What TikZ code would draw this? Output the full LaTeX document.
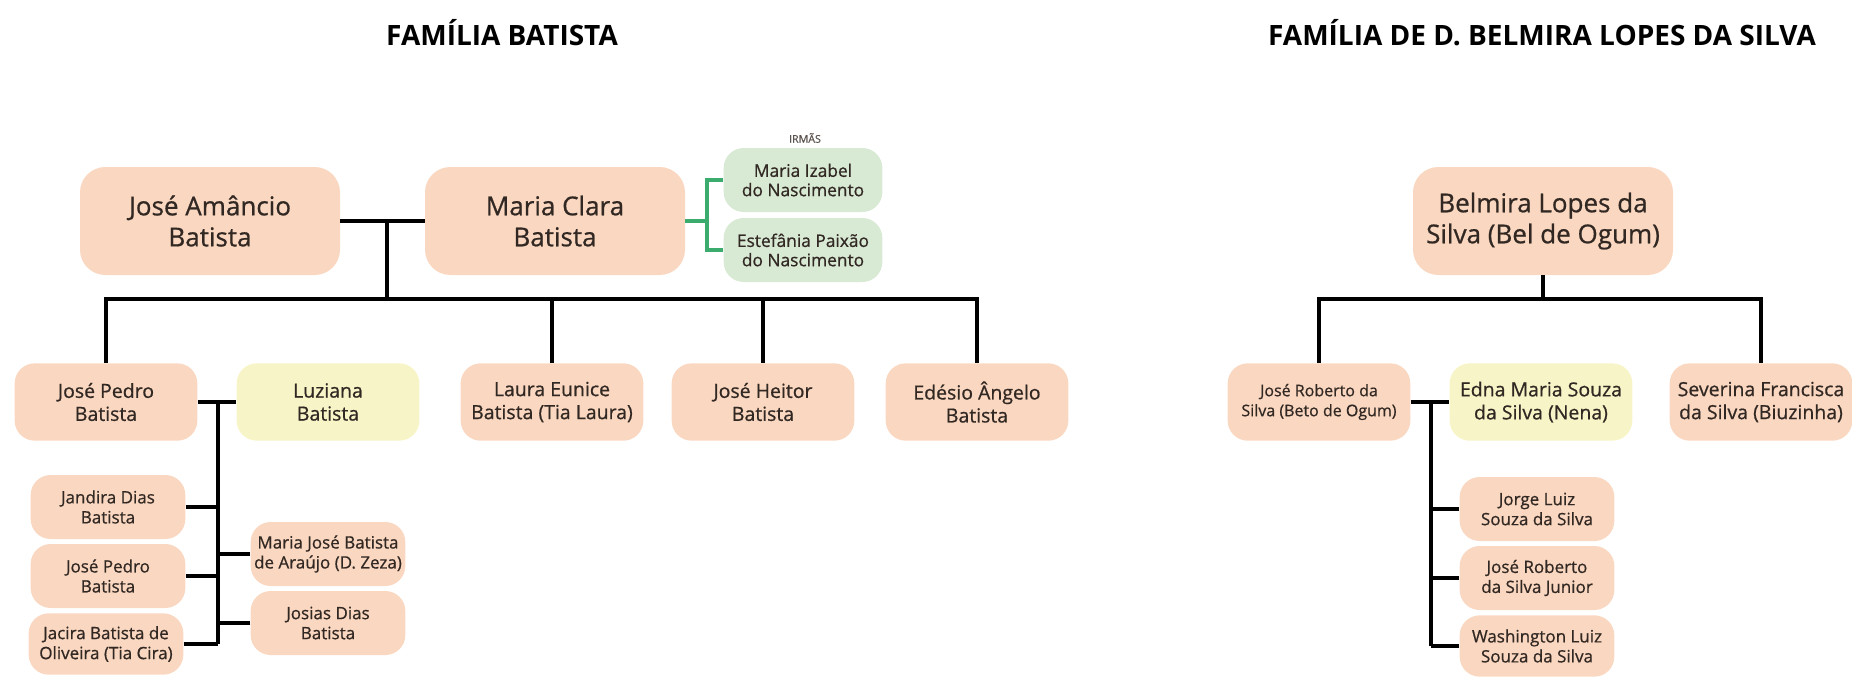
\documentclass[tikz,border=0pt]{standalone}
\usepackage{fontspec}
\setmainfont{Open Sans}
\newfontfamily\semifont{Open Sans}[FakeBold=0.7]
\definecolor{peach}{RGB}{250,215,192}
\definecolor{lemon}{RGB}{247,245,200}
\definecolor{greenfill}{RGB}{216,233,212}
\definecolor{gline}{RGB}{60,172,110}
\definecolor{txt}{RGB}{50,40,35}
\begin{document}
\begin{tikzpicture}[x=0.75pt,y=-0.75pt,
  box/.style={rounded corners=15pt, inner sep=0pt, align=center, text=txt},
  topbox/.style={box, fill=peach, minimum width=195pt, minimum height=81pt, rounded corners=19pt, font=\semifont\fontsize{19.5}{23.25}\selectfont},
  midbox/.style={box, fill=peach, minimum width=137pt, minimum height=58pt, font=\semifont\fontsize{14.6}{17.25}\selectfont},
  smallbox/.style={box, fill=peach, minimum width=116pt, minimum height=48pt, font=\semifont\fontsize{12.75}{15}\selectfont},
  greenbox/.style={box, fill=greenfill, minimum width=119pt, minimum height=48pt, font=\semifont\fontsize{13}{14.5}\selectfont},
  titlestyle/.style={font=\fontsize{21}{25}\selectfont\bfseries, text=black, inner sep=0pt},
  conn/.style={line width=3pt, black},
  gconn/.style={line width=2.3pt, gline},
]
\useasboundingbox (0,0) rectangle (1852,676);

% titles
\node[titlestyle] (t1) at (502,33) {FAMÍLIA BATISTA};
\node[titlestyle] (t2) at (1542,33) {FAMÍLIA DE D. BELMIRA LOPES DA SILVA};

% ---------- left family ----------
\node[topbox] (ja) at (210,221) {José Amâncio\\Batista};
\node[topbox] (mc) at (555,221) {Maria Clara\\Batista};
\node[font=\semifont\fontsize{8}{9}\selectfont, text=txt!80, inner sep=0pt] (irmas) at (805,138) {IRMÃS};
\node[greenbox] (mi) at (803,180) {Maria Izabel\\do Nascimento};
\node[greenbox] (ep) at (803,250) {Estefânia Paixão\\do Nascimento};

\node[midbox] (jp) at (106,402) {José Pedro\\Batista};
\node[midbox, fill=lemon] (lz) at (328,402) {Luziana\\Batista};
\node[midbox] (le) at (552,402) {Laura Eunice\\Batista (Tia Laura)};
\node[midbox] (jh) at (763,402) {José Heitor\\Batista};
\node[midbox] (ed) at (977,402) {Edésio Ângelo\\Batista};

\node[smallbox] (jd) at (108,507) {Jandira Dias\\Batista};
\node[smallbox] (jp2) at (108,576) {José Pedro\\Batista};
\node[smallbox, minimum height=46pt] (jc) at (106,644) {Jacira Batista de\\Oliveira (Tia Cira)};
\node[smallbox] (mj) at (328,554) {Maria José Batista\\de Araújo (D. Zeza)};
\node[smallbox] (js) at (328,623) {Josias Dias\\Batista};

% connectors left
\coordinate (j1) at (387,221);
\coordinate (busL) at (387,299);
\draw[conn] (ja.east) -- (mc.west);
\draw[conn] (j1) -- (busL);
\draw[conn] (jp.north) -- (jp.north |- busL) -| (ed.north);
\draw[conn] (le.north) -- (le.north |- busL);
\draw[conn] (jh.north) -- (jh.north |- busL);

\draw[gconn] (mc.east) -- (707,221) coordinate (g);
\draw[gconn] (mi.west) -| (g) |- (ep.west);

\coordinate (k1) at (218,402);
\draw[conn] (jp.east) -- (lz.west);
\draw[conn] (k1) -- (k1 |- jc.east);
\draw[conn] (jd.east) -- (jd.east -| k1);
\draw[conn] (jp2.east) -- (jp2.east -| k1);
\draw[conn] (jc.east) -- (jc.east -| k1);
\draw[conn] (mj.west) -- (mj.west -| k1);
\draw[conn] (js.west) -- (js.west -| k1);

% ---------- right family ----------
\node[topbox] (bl) at (1543,221) {Belmira Lopes da\\Silva (Bel de Ogum)};
\node[midbox, font=\semifont\fontsize{12}{15}\selectfont] (jr) at (1319,402) {José Roberto da\\Silva (Beto de Ogum)};
\node[midbox, fill=lemon] (en) at (1541,402) {Edna Maria Souza\\da Silva (Nena)};
\node[midbox] (sv) at (1761,402) {Severina Francisca\\da Silva (Biuzinha)};

\node[smallbox] (jl) at (1537,509) {Jorge Luiz\\Souza da Silva};
\node[smallbox] (jrj) at (1537,578) {José Roberto\\da Silva Junior};
\node[smallbox, minimum height=46pt] (wl) at (1537,646) {Washington Luiz\\Souza da Silva};

\coordinate (busR) at (1543,299);
\draw[conn] (bl.south) -- (busR);
\draw[conn] (jr.north) -- (jr.north |- busR) -| (sv.north);

\coordinate (k2) at (1431,402);
\draw[conn] (jr.east) -- (en.west);
\draw[conn] (k2) -- (k2 |- wl.west);
\draw[conn] (jl.west) -- (jl.west -| k2);
\draw[conn] (jrj.west) -- (jrj.west -| k2);
\draw[conn] (wl.west) -- (wl.west -| k2);
\end{tikzpicture}
\end{document}
